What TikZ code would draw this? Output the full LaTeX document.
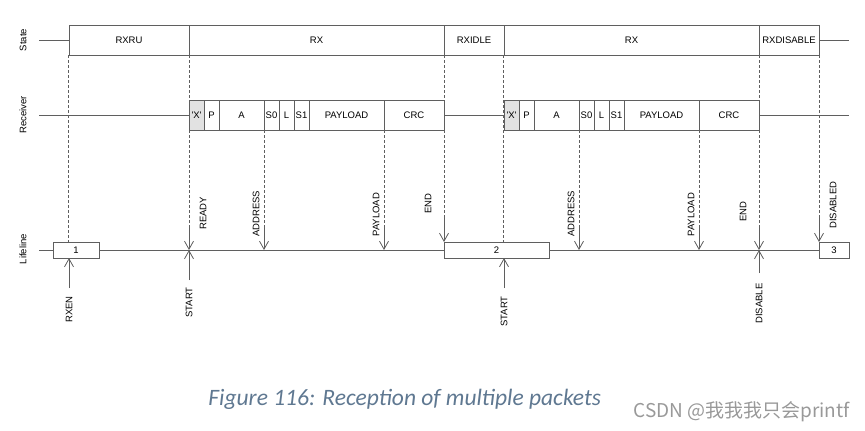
\documentclass[tikz,border=0pt]{standalone}
\usepackage{fontspec}
\setmainfont{Liberation Sans}
\newfontfamily\captionfont{Carlito}
\newfontfamily\cjkfont{Noto Sans CJK SC}
\usetikzlibrary{arrows.meta}

\definecolor{linegray}{RGB}{95,95,95}
\definecolor{figblue}{RGB}{95,120,145}
\definecolor{xgray}{RGB}{226,226,226}

\tikzset{
  box/.style={draw=linegray, inner sep=0pt, minimum height=30pt, font=\fontsize{9.5}{11}\selectfont},
  lifebox/.style={draw=linegray, fill=white, inner sep=0pt, minimum height=16pt, font=\fontsize{9.5}{11}\selectfont},
  guide/.style={linegray, dash pattern=on 3pt off 2pt},
  event/.style={->, linegray},
  evlabel/.style={rotate=90, inner sep=0pt, font=\fontsize{9.5}{11}\selectfont}
}

\begin{document}
\begin{tikzpicture}[x=1pt, y=-1pt, >={Straight Barb[length=8pt,width=9pt]}, line width=0.8pt]
  \useasboundingbox (0,0) rectangle (865,431);

  % Row labels
  \node[evlabel] (lstate) at (23,40) {State};
  \node[evlabel] (lrecv) at (23,115) {Receiver};
  \node[evlabel] (llife) at (23,249) {Lifeline};

  % State row
  \foreach \n/\a/\b/\t in {rxru/69/189/RXRU, rxa/189/444/RX, rxidle/444/504/RXIDLE, rxb/504/759/RX, rxdis/759/819/RXDISABLE} {
    \node[box, minimum width={(\b-\a)*1pt}] (\n) at ({(\a+\b)/2},40) {\t};
  }
  \coordinate (stateL) at (39,40);
  \coordinate (stateR) at (849,40);
  \draw[linegray] (stateL) -- (rxru.west);
  \draw[linegray] (rxdis.east) -- (stateR);

  % Receiver row: two packets, the second one shifted by 315
  \foreach \p/\o in {1/0, 2/315} {
    \foreach \n/\a/\b/\f/\t in {x/189/204/xgray/{\textquotesingle X\textquotesingle}, pr/204/219/white/P, ad/219/264/white/A, sa/264/279/white/S0, ln/279/294/white/L, sb/294/309/white/S1, pl/309/384/white/PAYLOAD, crc/384/444/white/CRC} {
      \node[box, fill=\f, minimum width={(\b-\a)*1pt}] (\n\p) at ({(\a+\b)/2+\o},115) {\t};
    }
  }
  \coordinate (recvL) at (39,115);
  \coordinate (recvR) at (849,115);
  \draw[linegray] (recvL) -- (x1.west);
  \draw[linegray] (crc1.east) -- (x2.west);
  \draw[linegray] (crc2.east) -- (recvR);

  % Lifeline
  \node[lifebox, minimum width=46pt] (b1) at (76,250) {1};
  \node[lifebox, minimum width=105pt] (b2) at (496.5,250) {2};
  \node[lifebox, minimum width=30pt] (b3) at (834,250) {3};
  \coordinate (lifeL) at (39,250);
  \draw[linegray] (lifeL) -- (b1.west);
  \draw[linegray] (b1.east) -- (b2.west);
  \draw[linegray] (b2.east) -- (b3.west);

  % Guides without events
  \draw[guide] (rxru.south west) -- (rxru.south west |- b1.north);
  \draw[guide] (rxb.south west) -- (rxb.south west |- b2.north);

  % Events from above: name/x/start of guide/arrow end
  \foreach \n/\x/\t/\e in {ready/189/55/250, addra/264/130/250, paya/384/130/250, enda/444/55/242, addrb/579/130/250, payb/699/130/250, endb/759/55/250, disd/819/55/242} {
    \coordinate (\n top) at (\x,\t);
    \coordinate (\n mid) at (\x,\e-25);
    \coordinate (\n) at (\x,\e);
    \draw[guide] (\n top) -- (\n mid);
    \draw[event] (\n mid) -- (\n);
  }
  \node[evlabel, anchor=west] (lready) at (203,230) {READY};
  \node[evlabel, anchor=west] (laddra) at (256,237) {ADDRESS};
  \node[evlabel, anchor=west] (lpaya) at (376,237) {PAYLOAD};
  \node[evlabel, anchor=west] (lenda) at (428,214) {END};
  \node[evlabel, anchor=west] (laddrb) at (571,237) {ADDRESS};
  \node[evlabel, anchor=west] (lpayb) at (691,237) {PAYLOAD};
  \node[evlabel, anchor=west] (lendb) at (743,222) {END};
  \node[evlabel, anchor=west] (ldisd) at (833,229) {DISABLED};

  % Events from below: name/x/arrow start/arrow end
  \foreach \n/\x/\s/\e in {rxen/69/288/258, starta/189/280/250, startb/504/288/258, dis/759/273/250} {
    \coordinate (\n low) at (\x,\s);
    \coordinate (\n) at (\x,\e);
    \draw[event] (\n low) -- (\n);
  }
  \node[evlabel, anchor=east] (lrxen) at (69,296) {RXEN};
  \node[evlabel, anchor=east] (lstarta) at (189,287) {START};
  \node[evlabel, anchor=east] (lstartb) at (504,296) {START};
  \node[evlabel, anchor=east] (ldis) at (759,283) {DISABLE};

  % Caption and watermark
  \node[anchor=base west, inner sep=0pt, text=figblue, font=\captionfont\itshape\fontsize{23.5}{26}\selectfont] (caption) at (208,405) {Figure 116: Reception of multiple packets};
  \node[anchor=base west, inner sep=0pt, text=black!40, font=\cjkfont\fontsize{19}{22}\selectfont] (mark) at (633,417) {CSDN @我我我只会printf};

\end{tikzpicture}
\end{document}
